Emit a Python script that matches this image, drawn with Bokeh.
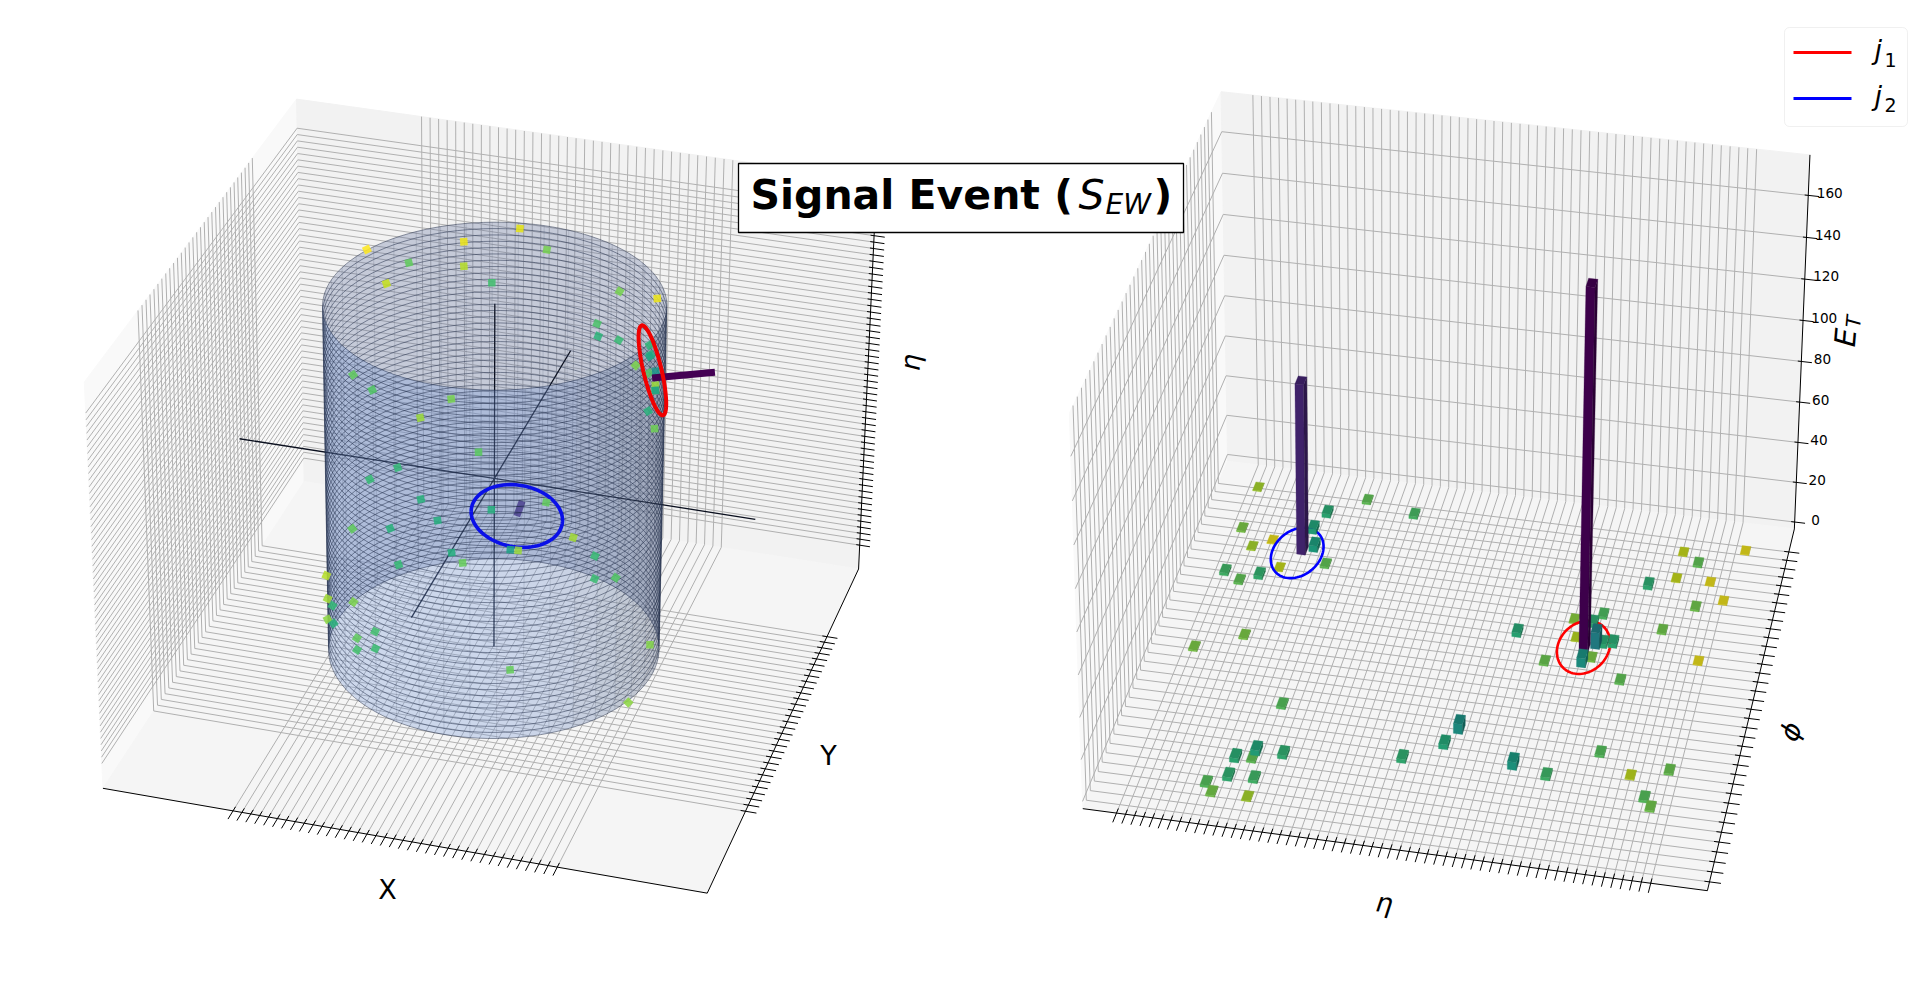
import numpy as np
from bokeh.plotting import figure
from bokeh.embed import file_html
from bokeh.resources import INLINE
from bokeh.core.properties import value
from bokeh.models import BoxAnnotation
from bokeh.palettes import Viridis256

# ---- data ----
tower_eta=[-5.52,-2.90,-3.70,-1.71,-5.51,-3.88,-5.12,-4.72,-3.70,-3.31,-4.32,-5.50,-5.10,-4.70,-4.51,-5.51,-3.11,-3.29,-3.32,-3.68,-2.69,-3.68,-3.12,-4.10,-3.91,-3.12,-0.13,0.67,0.88,1.48,2.27,2.65,3.09,3.26,2.81,3.29,3.66,3.44,3.10,3.27,4.04,4.66,5.26,5.63,5.84,5.44,4.66,4.08,5.06,4.66,6.05,2.27,3.04,4.05,4.82,5.62,5.24,5.42]
tower_phi=[3.02,3.02,2.65,2.84,2.15,2.29,1.81,1.99,1.93,1.63,1.46,1.25,1.11,1.26,0.07,-0.27,-1.13,-2.02,-2.16,-2.19,-2.02,-2.53,-2.51,-2.69,-2.84,-2.84,-1.82,-1.48,-1.17,0.76,0.28,1.15,1.12,1.31,0.81,0.72,0.78,0.75,0.34,0.46,0.10,1.15,1.68,0.65,1.87,2.21,2.20,1.99,2.55,2.74,2.92,-1.69,-1.80,-1.27,-1.60,-1.43,-1.97,-2.12]
tower_et=[.45,.95,2.1,1.3,.7,2.6,.45,.22,3.2,.95,.33,1.4,.95,1.8,.7,.7,1.1,2.6,.95,2.1,1.9,1.9,1.4,1.1,.75,.45,1.9,2.4,4.8,2.2,.85,.6,2.0,1.2,.38,8,2.1,2.1,4.5,.7,.95,.8,.8,.22,.22,.22,.33,2.0,.95,.33,.22,3.8,1.5,1.1,.36,.85,1.1,.8]
jet_eta=[3.06,-3.95]
jet_phi=[0.62,1.85]
jet_et=[174,84]
ring_eta=[3.03,-4.05]
ring_phi=[0.64,1.79]
ring_r_phi=[0.52,0.52]
jet_cyl_phi=[0.47,1.68]
jet_cyl_z=[0.50,-0.72]
ring_cyl_z=[0.545,-0.72]
cyl_phi=[2.67,2.01,1.67,2.36,2.01,2.52,1.84,2.81,2.64,2.09,2.29,1.92,2.45,2.67,1.50,0.95,0.30,1.14,1.13,0.95,0.76,0.55,0.55,0.52,0.54,0.30,0.30,0.30,0.30,0.30,0.55,0.30,1.84,1.49,1.30,1.13,1.13,0.94,2.09,2.02,1.72,1.67,2.29,2.84,2.51,2.18,2.45,-3.06,-3.08,3.11,-2.18,-2.54,-2.43,-2.15,-1.99,-2.15,-1.99,-1.13,0.26,-0.24]
cyl_z=[0.99,0.90,0.98,0.83,0.76,0.75,0.66,0.32,0.17,-0.01,-0.09,-0.34,-0.35,-0.35,0.88,0.79,1.03,0.54,0.47,0.51,0.44,0.49,0.65,0.61,0.59,0.51,0.62,0.54,0.51,0.51,0.27,0.29,-0.69,-0.61,-0.78,-0.84,-0.98,-0.90,-0.94,-1.01,-0.93,-0.93,-0.58,-0.58,-0.70,-0.73,-0.94,-0.68,-0.83,-0.92,-0.40,-0.67,-0.64,-0.60,-0.50,-0.67,-0.60,-0.60,-0.97,-1.06]
cyl_et=[.2,.24,.26,1.0,.42,.36,1.5,1.0,1.2,.8,.55,1.1,1.9,1.8,.8,.8,.24,1.3,2.1,1.7,.75,1.2,2.0,2.2,3.2,.5,5,.55,1.0,3.8,2.2,.85,2.4,1.0,.5,1.7,1.6,1.2,2.5,.95,3.5,.55,2.2,1.0,2.3,2.5,1.8,.42,.5,1.9,.75,.62,2.2,1.0,1.5,1.4,1.6,.95,.7,.62]
et_ticks=[0,20,40,60,80,100,120,140,160]

L_CAM=[((0,0,0),(102,787)),((1,0,0),(707,893)),((1,1,0),(858,568)),((0,1,0),(304,482)),((0,0,1),(84,382)),((0,1,1),(296,98)),((1,1,1),(876,180))]
R_CAM=[((0,0,0),(1084,813)),((1,0,0),(1704,890)),((1,1,0),(1794,528)),((0,1,0),(1228,457)),((0,0,1),(1070,408)),((0,1,1),(1217,95)),((1,1,1),(1812,155))]
def fit(c):
    A=[];b=[]
    for (X,Y,Z),(sx,sy) in c:
        A.append([X,Y,Z,1,0,0,0,0,-sx*X,-sx*Y,-sx*Z]);b.append(sx)
        A.append([0,0,0,0,X,Y,Z,1,-sy*X,-sy*Y,-sy*Z]);b.append(sy)
    h=np.linalg.lstsq(np.array(A,float),np.array(b,float),rcond=None)[0]
    return np.append(h,1).reshape(3,4)
PL=fit(L_CAM);PR=fit(R_CAM)
def proj(P,u,v,w):
    u,v,w=np.broadcast_arrays(np.asarray(u,float),np.asarray(v,float),np.asarray(w,float))
    d=P[2,0]*u+P[2,1]*v+P[2,2]*w+P[2,3]
    return (P[0,0]*u+P[0,1]*v+P[0,2]*w+P[0,3])/d,(P[1,0]*u+P[1,1]*v+P[1,2]*w+P[1,3])/d
LU=(.215,.755);LV=(.235,.78);LW=(.064,.927)
LU_T=(.22,.757);LV_T=(.235,.775)
def lu(x): return LU[0]+(np.asarray(x,float)+1)/2*(LU[1]-LU[0])
def lv(y): return LV[0]+(np.asarray(y,float)+1)/2*(LV[1]-LV[0])
def lw(z): return LW[0]+(np.asarray(z,float)+1)/2*(LW[1]-LW[0])
def lp(x,y,z): return proj(PL,lu(x),lv(y),lw(z))
CDX,CDY,CR=.043,.02,1.01
def lc(x,y,z): return lp(CR*np.asarray(x,float)+CDX,CR*np.asarray(y,float)+CDY,z)
RU=(.055,.911);RV=(.022,.93);ZMIN,ZMAX=-3.5,179.1
ETA=5.8
def ru(e): return RU[0]+(np.asarray(e,float)+ETA)/(2*ETA)*(RU[1]-RU[0])
def rv(f): return RV[0]+(np.asarray(f,float)+np.pi)/(2*np.pi)*(RV[1]-RV[0])
def rw(t): return (np.asarray(t,float)-ZMIN)/(ZMAX-ZMIN)

def col(et,f=1.0):
    t=np.clip(np.log(et/.2)/np.log(170/.2),0,1)
    c=Viridis256[int(round(255*(1-t)))]
    r,g,b=[int(c[i:i+2],16) for i in (1,3,5)]
    return "#%02x%02x%02x"%(int(r*f),int(g*f),int(b*f))
def mix(a,b,t):
    A=[int(a[i:i+2],16) for i in (1,3,5)];B=[int(b[i:i+2],16) for i in (1,3,5)]
    return "#%02x%02x%02x"%tuple(int(x+(y-x)*t) for x,y in zip(A,B))

p=figure(width=1920,height=986,x_range=(0,1920),y_range=(986,0),toolbar_location=None,output_backend="svg",min_border=0,x_axis_location=None,y_axis_location=None,outline_line_color=None)
p.grid.visible=False
GRID="#b0b0b0"
def ln(P,pts):
    a=np.array(pts,float)
    return proj(P,a[:,0],a[:,1],a[:,2])
def panel(P,us,vs,ws):
    polys=[[(0,0,1),(0,1,1),(0,1,0),(0,0,0)],[(0,1,0),(1,1,0),(1,1,1),(0,1,1)],[(0,0,0),(1,0,0),(1,1,0),(0,1,0)]]
    cols=["#f9f9f9","#f2f2f2","#f5f5f5"]
    X=[];Y=[]
    for q in polys:
        x,y=ln(P,q);X.append(list(x));Y.append(list(y))
    p.patches(X,Y,fill_color=cols,line_color=cols,line_width=1)
    gx=[];gy=[]
    for u in us:
        x,y=ln(P,[(u,0,0),(u,1,0),(u,1,1)]);gx.append(list(x));gy.append(list(y))
    for v in vs:
        x,y=ln(P,[(1,v,0),(0,v,0),(0,v,1)]);gx.append(list(x));gy.append(list(y))
    for w in ws:
        x,y=ln(P,[(0,0,w),(0,1,w),(1,1,w)]);gx.append(list(x));gy.append(list(y))
    p.multi_line(gx,gy,line_color=GRID,line_width=1)
def axes_ticks(P,us,vs,ws):
    ax=[];ay=[]
    for seg in ([(0,0,0),(1,0,0)],[(1,0,0),(1,1,0)],[(1,1,0),(1,1,1)]):
        x,y=ln(P,seg);ax.append(list(x));ay.append(list(y))
    for u in us:
        x,y=ln(P,[(u,.012,0),(u,-.024,0)]);ax.append(list(x));ay.append(list(y))
    for v in vs:
        x,y=ln(P,[(1-.008,v,0),(1+.018,v,0)]);ax.append(list(x));ay.append(list(y))
    for w in ws:
        x,y=ln(P,[(1-.006,1,w),(1+.018,1,w)]);ax.append(list(x));ay.append(list(y))
    p.multi_line(ax,ay,line_color="black",line_width=1)

# ---- left panel ----
lus=np.linspace(LU_T[0],LU_T[1],37);lvs=np.linspace(LV_T[0],LV_T[1],31);lws=lw(np.linspace(-1,1,55))
panel(PL,lus,lvs,lws)
axes_ticks(PL,lus,lvs,lws)
N=40
th=np.linspace(0,2*np.pi,N+1)
cx0,cy0=lc(0,0,0)
bx,fx,by,fy,fc=[],[],[],[],[]
for i in range(N):
    a=np.array([th[i],th[i+1],th[i+1],th[i]]);z=np.array([-1,-1,1,1.])
    x,y=lc(np.cos(a),np.sin(a),z)
    m=(th[i]+th[i+1])/2
    _,ym=lc(np.cos(m),np.sin(m),0)
    if ym<cy0:
        bx.append(list(x));by.append(list(y))
    else:
        fx.append(list(x));fy.append(list(y))
        fc.append(mix("#7f9dd8","#525f78",max(0,np.cos(m-.24))**2))
p.patches(bx,by,fill_color="#5c6d9c",fill_alpha=.3,line_color=None)
cl=1.6
xs,ys=[],[]
for a,b in (((-cl,0,0),(cl,0,0)),((0,-cl,0),(0,cl,0)),((0,0,-1),(0,0,1))):
    x,y=lc(*np.array([a,b]).T);xs.append(list(x));ys.append(list(y))
p.multi_line(xs,ys,line_color="#0a0f1e",line_width=1.3)
def cyl_ring(ph,z,rp,rz):
    a=np.linspace(0,2*np.pi,90)
    c=rp*np.cos(a)
    return lp(np.cos(ph)-c*np.sin(ph),np.sin(ph)+c*np.cos(ph),z+rz*np.sin(a))
def jetline(ph,z,et,c):
    r=np.array([1,1+et*.0022])
    x,y=lp(r*np.cos(ph),r*np.sin(ph),[z,z])
    p.line(x,y,line_color=c,line_width=7)
jetline(jet_cyl_phi[1],jet_cyl_z[1],jet_et[1],"#472d7b")
p.patches(fx,fy,fill_color=fc,fill_alpha=.34,line_color=None)
rx,ry=[],[]
a=np.linspace(0,2*np.pi,121)
for z in np.linspace(-1,1,56):
    x,y=lc(np.cos(a),np.sin(a),z+0*a);rx.append(list(x));ry.append(list(y))
p.multi_line(rx,ry,line_color="#1a2744",line_alpha=.55,line_width=.9)
rx,ry=[],[]
for t in th[:-1]:
    x,y=lc(np.cos([t,t]),np.sin([t,t]),[-1,1]);rx.append(list(x));ry.append(list(y))
p.multi_line(rx,ry,line_color="#1a2744",line_alpha=.16,line_width=.9)
x,y=cyl_ring(jet_cyl_phi[1],ring_cyl_z[1],.29,.19)
p.line(x,y,line_color="#0a10e8",line_width=3.6)
cphi=np.array(cyl_phi);cz=np.array(cyl_z)
px,py=lp(np.cos(cphi),np.sin(cphi),cz)
tx,ty=lp(np.cos(cphi+.01),np.sin(cphi+.01),cz)
ang=-np.arctan2(ty-py,tx-px)
p.scatter(px,py,size=7.5,marker="square",angle=ang,fill_color=[col(e) for e in cyl_et],fill_alpha=.88,line_color=None)
jetline(jet_cyl_phi[0],jet_cyl_z[0],jet_et[0],"#440154")
x,y=cyl_ring(jet_cyl_phi[0],ring_cyl_z[0],.42,.165)
p.line(x,y,line_color="#f00000",line_width=4)

# ---- right panel ----
rus=ru(np.linspace(-ETA,ETA,59));rvs=rv(np.linspace(-np.pi,np.pi,37));rws=rw(np.array(et_ticks,float))
panel(PR,rus,rvs,rws)
axes_ticks(PR,rus,rvs,rws)
du=(RU[1]-RU[0])/58/2;dv=(RV[1]-RV[0])/36/2
def bar_faces(e,f,et):
    u,v=ru(e),rv(f);w0,w1=rw(0),rw(et)
    fr=[(u-du,v-dv,w0),(u+du,v-dv,w0),(u+du,v-dv,w1),(u-du,v-dv,w1)]
    rt=[(u+du,v-dv,w0),(u+du,v+dv,w0),(u+du,v+dv,w1),(u+du,v-dv,w1)]
    tp=[(u-du,v-dv,w1),(u+du,v-dv,w1),(u+du,v+dv,w1),(u-du,v+dv,w1)]
    out=[]
    for q,s in ((fr,.9),(rt,.62),(tp,.8)):
        x,y=ln(PR,q);out.append((list(x),list(y),col(et,s)))
    return out
def draw_bars(items):
    items=sorted(items,key=lambda t:(-t[1],t[0]))
    X,Y,C=[],[],[]
    for e,f,et in items:
        for x,y,c in bar_faces(e,f,et):
            X.append(x);Y.append(y);C.append(c)
    p.patches(X,Y,fill_color=C,line_color=C,line_width=.3)
def floor_ring(e,f,rf,c):
    a=np.linspace(0,2*np.pi,90)
    x,y=proj(PR,ru(e+.58*np.cos(a)),rv(f+rf*np.sin(a)),rw(0)+0*a)
    p.line(x,y,line_color=c,line_width=2.6)
tw=list(zip(tower_eta,tower_phi,tower_et))
draw_bars([t for t in tw if t[2]<1.9])
floor_ring(ring_eta[0],ring_phi[0],ring_r_phi[0],"#ff0000")
floor_ring(ring_eta[1],ring_phi[1],ring_r_phi[1],"#0000ff")
draw_bars([t for t in tw if t[2]>=1.9]+list(zip(jet_eta,jet_phi,jet_et)))

# ---- texts ----
F=value("DejaVu Sans")
def T_(x,y,s,size,style="normal",angle=0,align="center",base="middle"):
    p.text([x],[y],text=[s],text_font=F,text_font_size=size,text_font_style=style,angle=angle,text_align=align,text_baseline=base,text_color="black")
T_(387,889,"X","27px");T_(828,755,"Y","27px")
T_(910,362,"η","27px","italic",np.radians(87))
T_(1384,902,"η","27px","italic",np.radians(-7))
T_(1790,731,"ϕ","27px","italic",np.radians(68))
T_(1845,337,"E","29px","italic",np.radians(85))
T_(1853,321,"T","20px","italic",np.radians(85))
lx,ly=proj(PR,1.036,1,rws)
p.text(list(lx),list(ly-5),text=[str(t) for t in et_ticks],text_font=F,text_font_size="13.6px",text_align="center",text_baseline="middle")
# title
p.quad(left=[738],right=[1183],top=[163],bottom=[232],fill_color="white",line_color="black",line_width=1.3)
T_(750,194,"Signal Event (","41px","bold",align="left",base="alphabetic")
T_(1078,194,"S","41px","italic",align="left",base="alphabetic")
T_(1105,204,"EW","28px","italic",align="left",base="alphabetic")
T_(1153,194,")","41px","bold",align="left",base="alphabetic")
# legend
p.add_layout(BoxAnnotation(left=1784,right=1907,top=27,bottom=126,fill_color="white",fill_alpha=.8,line_color="#cccccc",line_width=1,border_radius=5,level="underlay"))
p.line([1793,1851],[52,52],line_color="#ff0000",line_width=3)
p.line([1793,1851],[98,98],line_color="#0000ff",line_width=3)
T_(1874,49,"j","27px","italic",align="left",base="alphabetic")
T_(1884,59,"1","19px",align="left",base="alphabetic")
T_(1874,95,"j","27px","italic",align="left",base="alphabetic")
T_(1884,104,"2","19px",align="left",base="alphabetic")
open("out.html","w").write(file_html(p,INLINE))
